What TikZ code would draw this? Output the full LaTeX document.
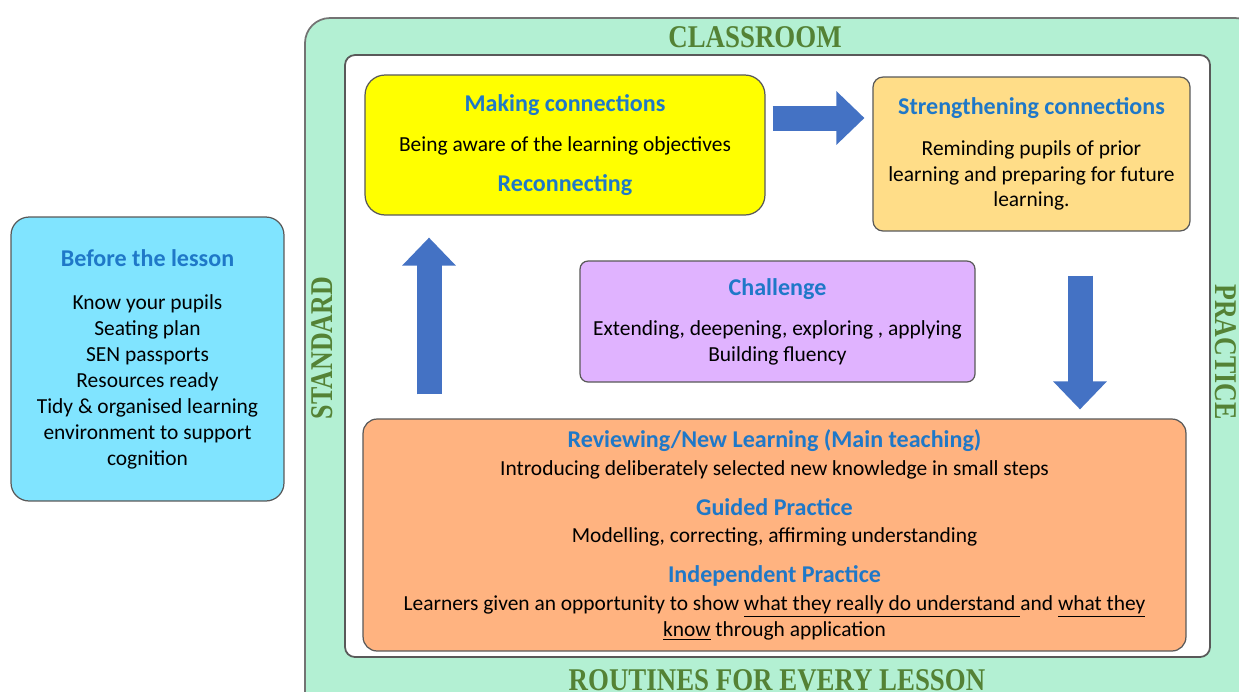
\documentclass[tikz,border=0pt]{standalone}
\usepackage{fontspec}
\setmainfont{Carlito}
\newfontfamily\headfont{Liberation Serif}
\usetikzlibrary{arrows.meta}
\definecolor{mintgreen}{RGB}{179,240,211}
\definecolor{headgreen}{RGB}{84,130,53}
\definecolor{beforecyan}{RGB}{128,228,255}
\definecolor{connyellow}{RGB}{255,255,0}
\definecolor{strengthorange}{RGB}{255,221,136}
\definecolor{challengeviolet}{RGB}{224,179,255}
\definecolor{teachpeach}{RGB}{255,179,128}
\definecolor{titleblue}{RGB}{31,120,200}
\definecolor{arrowblue}{RGB}{68,114,196}
\tikzset{
  box/.style={draw=black!65, line width=0.7pt, align=center, inner sep=0pt,
    font=\fontsize{12.2}{14.74}\selectfont},
  heading/.style={text=headgreen, font=\headfont\bfseries\fontsize{18}{20}\selectfont},
  flow/.style={draw=arrowblue, line width=0.5cm, -{Triangle[length=0.56cm,width=1.04cm]}},
}
\newcommand{\boxtitle}[1]{{\fontsize{13.7}{14.74}\selectfont\bfseries\color{titleblue}#1}}

\begin{document}
\begin{tikzpicture}[x=0.02cm, y=-0.02cm]
\clip (0,0) rectangle (1239,691);
% frame
\filldraw[fill=mintgreen, draw=black!55, line width=1pt, rounded corners=0.5cm] (305,18) rectangle (1260,720);
\filldraw[fill=white, draw=black!65, line width=1pt, rounded corners=0.2cm] (345,55) rectangle (1210,657);
\node[heading] (classroom) at (755,37) {\scalebox{0.85}[1]{CLASSROOM}};
\node[heading, rotate=90] (standard) at (322,348) {\scalebox{0.82}[1]{STANDARD}};
\node[heading, rotate=-90] (practice) at (1226,352) {\scalebox{0.82}[1]{PRACTICE}};
\node[heading] (routines) at (777,680) {\scalebox{0.85}[1]{ROUTINES FOR EVERY LESSON}};
% boxes
\node[box, fill=beforecyan, minimum width=5.46cm, minimum height=5.68cm, rounded corners=0.36cm] (before) at (147.5,359)
  {\boxtitle{Before the lesson}\\[10pt] Know your pupils\\ Seating plan\\ SEN passports\\ Resources ready\\
   Tidy \& organised learning\\ environment to support\\ cognition};
\node[box, fill=connyellow, minimum width=8cm, minimum height=2.8cm, rounded corners=0.4cm] (making) at (565,145)
  {\boxtitle{Making connections}\\[8.5pt] Being aware of the learning objectives\\[8pt] \boxtitle{Reconnecting}};
\node[box, fill=strengthorange, minimum width=6.34cm, minimum height=3.08cm, rounded corners=0.2cm] (strength) at (1031.5,154)
  {\boxtitle{Strengthening connections}\\[8.5pt] Reminding pupils of prior\\ learning and preparing for future\\ learning.};
\node[box, fill=challengeviolet, minimum width=7.9cm, minimum height=2.42cm, rounded corners=0.16cm] (challenge) at (777.5,321.5)
  {\boxtitle{Challenge}\\[8pt] Extending, deepening, exploring , applying\\ Building fluency};
\node[box, fill=teachpeach, minimum width=16.46cm, minimum height=4.64cm, rounded corners=0.28cm] (teaching) at (774.5,535)
  {\boxtitle{Reviewing/New Learning (Main teaching)}\\[1pt]
   Introducing deliberately selected new knowledge in small steps\\[8pt]
   \boxtitle{Guided Practice}\\[1pt]
   Modelling, correcting, affirming understanding\\[8pt]
   \boxtitle{Independent Practice}\\[1pt]
   Learners given an opportunity to show \underline{what they really do understand\ }and \underline{what they}\\
   \underline{know} through application};
% arrows
\coordinate (toprow) at (0,118);
\coordinate (upcol) at (429,0);
\coordinate (downcol) at (1080,0);
\draw[flow, shorten <=0.14cm, shorten >=0.16cm] (making.east |- toprow) -- (strength.west |- toprow);
\draw[flow, shorten <=0.48cm, shorten >=0.44cm] (teaching.north -| upcol) -- (making.south -| upcol);
\draw[flow, shorten <=0.88cm, shorten >=0.18cm] (strength.south -| downcol) -- (teaching.north -| downcol);
\end{tikzpicture}
\end{document}
